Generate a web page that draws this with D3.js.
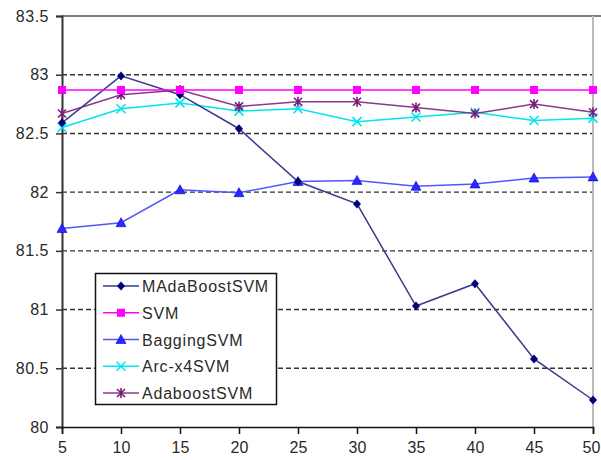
<!DOCTYPE html>
<html><head><meta charset="utf-8">
<script src="https://cdn.jsdelivr.net/npm/d3@7"></script>
<style>body{margin:0;background:#fff}svg{display:block}text{font-family:Arial,"Liberation Sans",sans-serif}</style>
</head><body><svg id="c" width="601" height="460"></svg>
<script>
const xValues = [5,10,15,20,25,30,35,40,45,50];
const yTicks = [80,80.5,81,81.5,82,82.5,83,83.5];
const seriesNames = ["MAdaBoostSVM","SVM","BaggingSVM","Arc-x4SVM","AdaboostSVM"];
const madaboost = [82.59,82.99,82.83,82.54,82.09,81.90,81.03,81.22,80.58,80.23];
const svm = [82.87,82.87,82.87,82.87,82.87,82.87,82.87,82.87,82.87,82.87];
const bagging = [81.69,81.74,82.02,81.995,82.09,82.10,82.05,82.07,82.12,82.13];
const arcx4 = [82.55,82.71,82.76,82.69,82.71,82.60,82.64,82.68,82.61,82.63];
const adaboost = [82.67,82.83,82.87,82.73,82.77,82.77,82.72,82.67,82.75,82.68];

const series = [
  {name:seriesNames[0], values:madaboost, line:"#3a3a8e", fill:"#00007a", marker:"diamond"},
  {name:seriesNames[1], values:svm, line:"#ff00ff", fill:"#ff00ff", marker:"square"},
  {name:seriesNames[2], values:bagging, line:"#5555ff", fill:"#2a2aff", marker:"triangle"},
  {name:seriesNames[3], values:arcx4, line:"#00e5ee", fill:"#00e5ee", marker:"x"},
  {name:seriesNames[4], values:adaboost, line:"#8a3a8a", fill:"#7a1a7a", marker:"star"}
];

const svg = d3.select("#c");
const L=62, R=593, T=16, B=427;
const x = d3.scaleLinear().domain([5,50]).range([L,R]);
const y = d3.scaleLinear().domain([80,83.5]).range([B,T]);
const FONT = "Arial, Liberation Sans, sans-serif";

// gridlines
svg.append("g").selectAll("line").data(yTicks.filter(v=>v>80 && v<83.5)).join("line")
  .attr("x1",L).attr("x2",R).attr("y1",d=>y(d)).attr("y2",d=>y(d))
  .attr("stroke","#333").attr("stroke-width",1.4).attr("stroke-dasharray","5,3");
// top border
svg.append("line").attr("x1",L).attr("x2",601).attr("y1",y(83.5)).attr("y2",y(83.5)).attr("stroke","#555").attr("stroke-width",1.5);
// right border
svg.append("line").attr("x1",R).attr("x2",R).attr("y1",T).attr("y2",B).attr("stroke","#bbb").attr("stroke-width",2);

// axes
const yAxis = d3.axisLeft(y).tickValues(yTicks).tickSize(6).tickPadding(7).tickFormat(d=>d3.format("")(d));
const gy = svg.append("g").attr("transform",`translate(${L},0)`).call(yAxis);
gy.select(".domain").attr("stroke","#333").attr("stroke-width",2);
gy.selectAll(".tick line").attr("stroke","#333").attr("stroke-width",1.5);
gy.selectAll(".tick text").attr("font-size",16).attr("fill","#2a2a2a").style("font-family",FONT).style("letter-spacing","0.5px");

const xAxis = d3.axisBottom(x).tickValues(xValues).tickSize(7).tickPadding(8);
const gx = svg.append("g").attr("transform",`translate(0,${B})`).call(xAxis);
gx.select(".domain").attr("stroke","#111").attr("stroke-width",1.5);
gx.selectAll(".tick line").attr("stroke","#111").attr("stroke-width",1.5);
gx.selectAll(".tick text").attr("font-size",16).attr("fill","#2a2a2a").style("font-family",FONT)
  .attr("dx",d=>d===50?"-2":null);

function drawMarker(g, type, cx, cy, color){
  if(type==="diamond"){
    g.append("path").attr("d",`M${cx},${cy-4.5}L${cx+4},${cy}L${cx},${cy+4.5}L${cx-4},${cy}Z`).attr("fill",color);
  } else if(type==="square"){
    g.append("rect").attr("x",cx-4).attr("y",cy-4).attr("width",8).attr("height",8).attr("fill",color);
  } else if(type==="triangle"){
    g.append("path").attr("d",`M${cx},${cy-5}L${cx+5},${cy+4}L${cx-5},${cy+4}Z`).attr("fill",color).attr("stroke","#0000cc").attr("stroke-width",0.6);
  } else if(type==="x"){
    g.append("path").attr("d",`M${cx-4.5},${cy-4.5}L${cx+4.5},${cy+4.5}M${cx-4.5},${cy+4.5}L${cx+4.5},${cy-4.5}`).attr("stroke",color).attr("stroke-width",1.6);
  } else if(type==="star"){
    g.append("path").attr("d",`M${cx-4},${cy-4}L${cx+4},${cy+4}M${cx-4},${cy+4}L${cx+4},${cy-4}M${cx},${cy-5}L${cx},${cy+5}`).attr("stroke",color).attr("stroke-width",1.6);
  }
}

const line = d3.line().x((d,i)=>x(xValues[i])).y(d=>y(d));
const drawOrder = [2,3,4,0,1];
drawOrder.forEach(k=>{
  const s = series[k];
  const g = svg.append("g");
  g.append("path").datum(s.values).attr("d",line).attr("fill","none").attr("stroke",s.line).attr("stroke-width",1.5);
  s.values.forEach((v,i)=>drawMarker(g,s.marker,x(xValues[i]),y(v),s.fill));
});

// legend
const lg = svg.append("g");
lg.append("rect").attr("x",95.5).attr("y",273.5).attr("width",181).attr("height",131).attr("fill","#fff").attr("stroke","#111").attr("stroke-width",1.5);
series.forEach((s,i)=>{
  const ly = 286 + i*26.75;
  lg.append("line").attr("x1",103).attr("x2",139).attr("y1",ly).attr("y2",ly).attr("stroke",s.line).attr("stroke-width",1.5);
  drawMarker(lg,s.marker,121,ly,s.fill);
  lg.append("text").attr("x",142).attr("y",ly+6).attr("font-size",16).attr("fill","#2a2a2a").style("font-family",FONT).style("letter-spacing","0.8px").text(s.name);
});
</script></body></html>
